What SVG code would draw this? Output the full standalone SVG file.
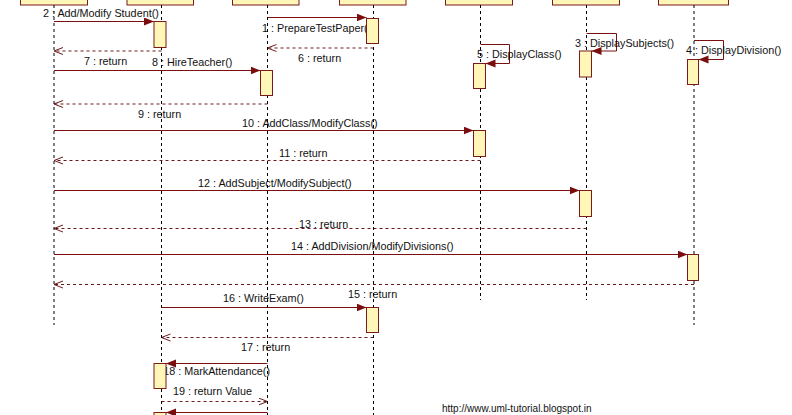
<svg xmlns="http://www.w3.org/2000/svg" width="792" height="415" viewBox="0 0 792 415">
<style>
.head{fill:#FFF6B8;stroke:#7A1A1A;stroke-width:1}
.act{fill:#FFF6B8;stroke:#7A1A1A;stroke-width:1}
.life{stroke:#000;stroke-width:1;stroke-dasharray:3,3;fill:none}
.msg{stroke:#7A1010;stroke-width:1;fill:none}
.ret{stroke:#6A1A1A;stroke-width:1;stroke-dasharray:3,3;fill:none}
text{font-family:"Liberation Sans",Arial,sans-serif;font-size:10.8px;fill:#111}
</style>
<defs>
<marker id="fa" markerUnits="userSpaceOnUse" markerWidth="11" markerHeight="9" refX="10" refY="4" orient="auto">
<path d="M0,0 L10,4 L0,8 z" fill="#7A0E0E"/>
</marker>
<marker id="oa" markerUnits="userSpaceOnUse" markerWidth="10" markerHeight="9" refX="9" refY="4" orient="auto">
<path d="M0,0.5 L9,4 L0,7.5" fill="none" stroke="#6A1A1A" stroke-width="1"/>
</marker>
</defs>
<rect width="792" height="415" fill="#fff"/>
<g id="connectors">
<line class="msg" x1="267.5" y1="17.5" x2="366.5" y2="17.5" marker-end="url(#fa)"/>
<line class="msg" x1="54" y1="21.5" x2="154" y2="21.5" marker-end="url(#fa)"/>
<path class="msg" d="M586.5,33.5 H616.5 V51 H591.5" marker-end="url(#fa)"/>
<path class="msg" d="M694,40.5 H723.5 V59.5 H698.5" marker-end="url(#fa)"/>
<path class="msg" d="M480.5,44.5 H509.5 V63.5 H485.5" marker-end="url(#fa)"/>
<line class="ret" x1="373.5" y1="48" x2="267.5" y2="48" marker-end="url(#oa)"/>
<line class="ret" x1="161.5" y1="51" x2="54" y2="51" marker-end="url(#oa)"/>
<line class="msg" x1="54" y1="70.5" x2="260.5" y2="70.5" marker-end="url(#fa)"/>
<line class="ret" x1="267.5" y1="104" x2="54" y2="104" marker-end="url(#oa)"/>
<line class="msg" x1="54" y1="130.5" x2="473.5" y2="130.5" marker-end="url(#fa)"/>
<line class="ret" x1="480.5" y1="160.5" x2="54" y2="160.5" marker-end="url(#oa)"/>
<line class="msg" x1="54" y1="190.5" x2="579.5" y2="190.5" marker-end="url(#fa)"/>
<line class="ret" x1="586.5" y1="228.5" x2="54" y2="228.5" marker-end="url(#oa)"/>
<line class="msg" x1="54" y1="254.5" x2="687.5" y2="254.5" marker-end="url(#fa)"/>
<line class="ret" x1="694" y1="284.5" x2="54" y2="284.5" marker-end="url(#oa)"/>
<line class="msg" x1="161.5" y1="307.5" x2="366.5" y2="307.5" marker-end="url(#fa)"/>
<line class="ret" x1="373.5" y1="337.5" x2="161.5" y2="337.5" marker-end="url(#oa)"/>
<line class="msg" x1="267.5" y1="363.5" x2="166" y2="363.5" marker-end="url(#fa)"/>
<line class="ret" x1="161.5" y1="401.5" x2="267.5" y2="401.5" marker-end="url(#oa)"/>
<line class="msg" x1="267.5" y1="412.5" x2="166" y2="412.5" marker-end="url(#fa)"/>
<text x="43" y="17">2 : Add/Modify Student()</text>
<text x="262" y="32">1 : PrepareTestPaper()</text>
<text x="84" y="65">7 : return</text>
<text x="152" y="66">8 : HireTeacher()</text>
<text x="298" y="62">6 : return</text>
<text x="138" y="118">9 : return</text>
<text x="242" y="127">10 : AddClass/ModifyClass()</text>
<text x="477" y="58">5 : DisplayClass()</text>
<text x="575" y="47">3 : DisplaySubjects()</text>
<text x="686" y="54">4 : DisplayDivision()</text>
<text x="279" y="157">11 : return</text>
<text x="198" y="187">12 : AddSubject/ModifySubject()</text>
<text x="299" y="228">13 : return</text>
<text x="291" y="250">14 : AddDivision/ModifyDivisions()</text>
<text x="348" y="298">15 : return</text>
<text x="223" y="302">16 : WriteExam()</text>
<text x="241" y="351">17 : return</text>
<text x="270" y="375" text-anchor="end">18 : MarkAttendance()</text>
<text x="173" y="395">19 : return Value</text>
</g>
<g id="lifeline1">
<rect class="head" x="20.5" y="-20" width="67" height="25"/>
<line class="life" x1="54" y1="5" x2="54" y2="325"/>
</g>
<g id="lifeline2">
<rect class="head" x="127" y="-20" width="66.5" height="25"/>
<line class="life" x1="161.5" y1="5" x2="161.5" y2="415"/>
<rect class="act" x="154" y="21.5" width="12" height="26"/>
<rect class="act" x="154" y="363.5" width="12" height="25"/>
<rect class="act" x="154" y="412.5" width="12" height="10"/>
</g>
<g id="lifeline3">
<rect class="head" x="232.5" y="-20" width="66.5" height="25"/>
<line class="life" x1="267.5" y1="5" x2="267.5" y2="415"/>
<rect class="act" x="260.5" y="70.5" width="12" height="25"/>
</g>
<g id="lifeline4">
<rect class="head" x="339.5" y="-20" width="66.5" height="25"/>
<line class="life" x1="373.5" y1="5" x2="373.5" y2="415"/>
<rect class="act" x="366.5" y="18.5" width="12" height="25"/>
<rect class="act" x="366.5" y="307.5" width="12" height="25"/>
</g>
<g id="lifeline5">
<rect class="head" x="445.5" y="-20" width="67" height="25"/>
<line class="life" x1="480.5" y1="5" x2="480.5" y2="300"/>
<rect class="act" x="473.5" y="63.5" width="12" height="25"/>
<rect class="act" x="473.5" y="130.5" width="12" height="26"/>
</g>
<g id="lifeline6">
<rect class="head" x="552.5" y="-20" width="67" height="25"/>
<line class="life" x1="586.5" y1="5" x2="586.5" y2="300"/>
<rect class="act" x="579.5" y="51" width="12" height="26"/>
<rect class="act" x="579.5" y="190.5" width="12" height="26"/>
</g>
<g id="lifeline7">
<rect class="head" x="658.5" y="-20" width="70" height="25"/>
<line class="life" x1="694" y1="5" x2="694" y2="325"/>
<rect class="act" x="687.5" y="59.5" width="11" height="25"/>
<rect class="act" x="687.5" y="254.5" width="11" height="26"/>
</g>
<text x="442" y="412" style="font-size:10px">http://www.uml-tutorial.blogspot.in</text>
</svg>
